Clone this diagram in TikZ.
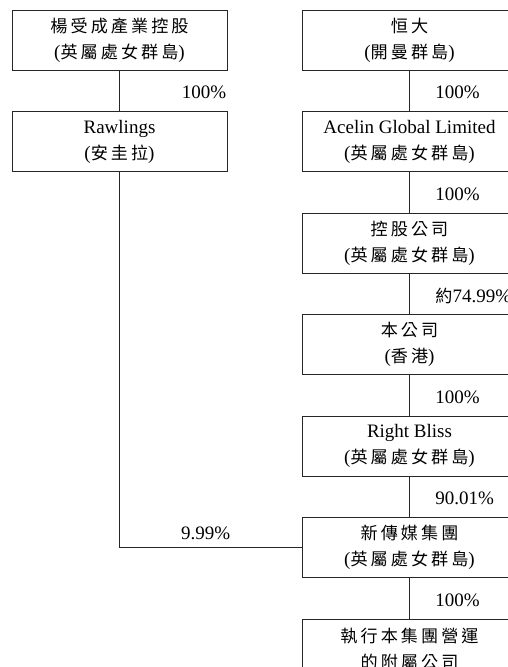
\documentclass[tikz,border=0pt]{standalone}
\usepackage{fontspec}
\setmainfont{Liberation Serif}
\newfontfamily\zhfont[LetterSpace=18,Scale=0.9]{Noto Sans CJK TC}
\newcommand{\zh}[1]{{\zhfont #1}}
\usetikzlibrary{positioning}

\begin{document}
\begin{tikzpicture}[
    x=1pt, y=1pt,
    company/.style = {draw=black!85, line width=0.8pt, minimum height=60pt, minimum width=215pt, inner sep=0pt, align=center, font=\fontsize{19}{26}\selectfont, execute at begin node={\rule{0pt}{23pt}}},
    link/.style = {draw=black!85, line width=0.8pt},
    share/.style = {font=\fontsize{19}{23}\selectfont, inner sep=0pt, yshift=-2pt},
    lshare/.style = {share, anchor=east, xshift=107pt},
    rshare/.style = {share, anchor=west, xshift=25.5pt},
    node distance=40.7pt
  ]
  \useasboundingbox (0,0) rectangle (507,-667);

  % Left column
  \node[company] (yeung) at (119.5,-40) {\zh{楊受成產業控股}\\(\zh{英屬處女群島})};
  \node[company, below=of yeung] (rawlings) {Rawlings\\(\zh{安圭拉})};

  % Right column
  \node[company] (evergrande) at (409.5,-40) {\zh{恒大}\\(\zh{開曼群島})};
  \node[company, below=of evergrande] (acelin) {Acelin Global Limited\\(\zh{英屬處女群島})};
  \node[company, below=of acelin] (holdco) {\zh{控股公司}\\(\zh{英屬處女群島})};
  \node[company, below=of holdco] (ourco) {\zh{本公司}\\(\zh{香港})};
  \node[company, below=of ourco] (rightbliss) {Right Bliss\\(\zh{英屬處女群島})};
  \node[company, below=of rightbliss] (newmedia) {\zh{新傳媒集團}\\(\zh{英屬處女群島})};
  \node[company, below=of newmedia] (subs) {\zh{執行本集團營運}\\\zh{的附屬公司}};

  % Shareholdings
  \draw[link] (yeung) -- node[lshare] {100\%} (rawlings);
  \draw[link] (evergrande) -- node[rshare] {100\%} (acelin);
  \draw[link] (acelin) -- node[rshare] {100\%} (holdco);
  \draw[link] (holdco) -- node[rshare] {\zh{約}74.99\%} (ourco);
  \draw[link] (ourco) -- node[rshare] {100\%} (rightbliss);
  \draw[link] (rightbliss) -- node[rshare] {90.01\%} (newmedia);
  \draw[link] (newmedia) -- node[rshare] {100\%} (subs);

  % Rawlings stake in the media group
  \draw[link] (rawlings.south) |- node[share, pos=0.75, above=9pt, xshift=-5pt] {9.99\%} (newmedia.west);

\end{tikzpicture}
\end{document}
